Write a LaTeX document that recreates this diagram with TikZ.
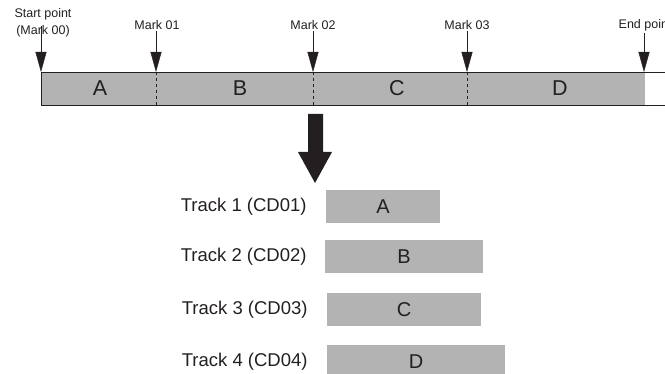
\documentclass[tikz,border=0pt]{standalone}
\usepackage{fontspec}
\setmainfont{Liberation Sans}
\usetikzlibrary{arrows.meta,positioning}
\definecolor{barfill}{RGB}{179,179,179}
\definecolor{ink}{RGB}{35,31,32}
\tikzset{
  mark label/.style={font=\fontsize{12.5}{17}\selectfont, text=ink, inner sep=1.5pt},
  mark arrow/.style={draw=ink, thin, -{Triangle[length=20pt,width=11pt]}},
  part letter/.style={font=\fontsize{21.5}{22}\selectfont, text=ink},
  track bar/.style={fill=barfill, draw=none, inner sep=0pt, font=\fontsize{20}{22}\selectfont, text=ink},
  track label/.style={font=\fontsize{18.5}{20}\selectfont, text=ink, inner sep=0pt},
}
\begin{document}
\begin{tikzpicture}[x=1pt,y=-1pt]
\useasboundingbox (0,0) rectangle (665,374);
\clip (0,0) rectangle (665,374);

% the recording as one bar
\fill[barfill] (41,72) rectangle (645,105);
\draw[ink] (665,72) -- (41,72) -- (41,105) -- (665,105);
\foreach \x in {156,313,467} \draw[ink, dashed] (\x,72) -- (\x,105);

\node[part letter] (pA) at (100,88) {A};
\node[part letter] (pB) at (240,88) {B};
\node[part letter] (pC) at (397,88) {C};
\node[part letter] (pD) at (560,88) {D};

% marks
\coordinate (m0) at (41,72);
\coordinate (m1) at (156,72);
\coordinate (m2) at (313,72);
\coordinate (m3) at (467,72);
\coordinate (m4) at (644,72);

\node[mark label, align=center] (lab0) at (43,23) {Start point\\(Mark 00)};
\node[mark label] (lab1) at (157,25) {Mark 01};
\node[mark label] (lab2) at (313,25) {Mark 02};
\node[mark label] (lab3) at (467,25) {Mark 03};
\node[mark label, anchor=west] (lab4) at (617,25) {End point};

\coordinate (s0) at (41,26);
\draw[mark arrow] (s0) -- (m0);
\draw[mark arrow] (lab1.south -| m1) -- (m1);
\draw[mark arrow] (lab2.south -| m2) -- (m2);
\draw[mark arrow] (lab3.south -| m3) -- (m3);
\draw[mark arrow] (lab4.south -| m4) -- (m4);

% big arrow
\fill[ink] (308,114) -- (323,114) -- (323,152) -- (332,152) -- (315,183)
  -- (298,152) -- (308,152) -- cycle;

% tracks
\node[track bar, minimum width=114pt, minimum height=33pt] (t1) at (383,206.5) {A};
\node[track bar, minimum width=158pt, minimum height=33pt] (t2) at (404,256.5) {B};
\node[track bar, minimum width=154pt, minimum height=33pt] (t3) at (404,309.5) {C};
\node[track bar, minimum width=178pt, minimum height=33pt] (t4) at (416,361.5) {D};

\node[track label, left=19pt of t1] (l1) {Track 1 (CD01)};
\node[track label, left=18pt of t2] (l2) {Track 2 (CD02)};
\node[track label, left=19pt of t3] (l3) {Track 3 (CD03)};
\node[track label, left=19pt of t4] (l4) {Track 4 (CD04)};

\end{tikzpicture}
\end{document}
